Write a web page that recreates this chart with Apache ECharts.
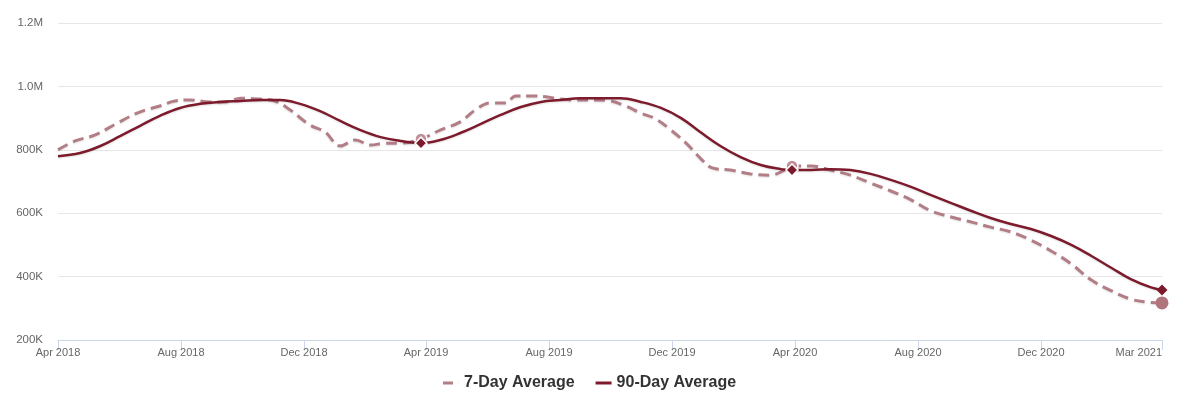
<!DOCTYPE html>
<html><head><meta charset="utf-8">
<script src="https://cdn.jsdelivr.net/npm/echarts@6/dist/echarts.min.js"></script>
<style>html,body{margin:0;padding:0;background:#fff}#c{width:1189px;height:415px}</style>
</head><body><div id="c"></div>
<script>
// values in thousands
const dates7 = ['2018-04-01','2018-04-18','2018-05-08','2018-05-28','2018-06-21','2018-07-11','2018-07-26','2018-08-10','2018-08-30','2018-09-14','2018-09-29','2018-10-17','2018-11-02','2018-11-17','2018-12-07','2018-12-22','2019-01-06','2019-01-21','2019-02-05','2019-02-20','2019-03-07','2019-03-27','2019-04-15','2019-05-05','2019-05-20','2019-06-04','2019-06-19','2019-06-29','2019-07-14','2019-07-29','2019-08-12','2019-08-27','2019-09-16','2019-10-01','2019-10-16','2019-10-31','2019-11-15','2019-11-30','2019-12-15','2019-12-29','2020-01-10','2020-01-28','2020-02-17','2020-03-08','2020-03-18','2020-03-29','2020-04-17','2020-05-06','2020-05-26','2020-06-15','2020-07-05','2020-07-25','2020-08-14','2020-09-03','2020-09-23','2020-10-12','2020-11-01','2020-11-21','2020-12-11','2020-12-31','2021-01-20','2021-02-09','2021-02-28','2021-03-15','2021-03-31'];
const values7 = [800,828,847,881,919,938,954,957,951,951,963,960,954,926,878,856,812,831,815,821,821,834,862,888,926,948,948,970,970,967,960,957,957,954,938,916,897,862,821,774,743,736,724,720,730,749,749,736,720,695,670,642,607,588,572,556,541,515,481,440,389,355,329,320,317];
const dates90 = ['2018-04-01','2018-04-23','2018-05-13','2018-06-02','2018-06-21','2018-07-11','2018-07-31','2018-08-20','2018-09-09','2018-09-29','2018-10-19','2018-11-07','2018-11-27','2018-12-17','2019-01-06','2019-01-26','2019-02-15','2019-03-07','2019-03-27','2019-04-15','2019-05-05','2019-05-25','2019-06-14','2019-07-04','2019-07-24','2019-08-12','2019-09-01','2019-09-21','2019-10-11','2019-10-31','2019-11-20','2019-12-10','2019-12-29','2020-01-18','2020-02-07','2020-02-27','2020-03-18','2020-03-29','2020-04-17','2020-05-06','2020-05-26','2020-06-15','2020-07-05','2020-07-25','2020-08-14','2020-09-03','2020-09-23','2020-10-12','2020-11-01','2020-11-21','2020-12-11','2020-12-31','2021-01-20','2021-02-09','2021-02-28','2021-03-20','2021-03-31'];
const values90 = [780,790,812,844,875,907,932,945,951,954,957,957,945,922,891,862,840,828,821,831,853,881,910,935,951,957,963,963,963,951,932,900,856,812,777,752,739,736,736,739,736,724,705,683,657,632,607,585,566,550,528,500,465,427,392,366,358];
const markerDates = ['2019-03-27','2020-03-29'];
const tickDates = ['2018-04-01','2018-08-01','2018-12-01','2019-04-01','2019-08-01','2019-12-01','2020-04-01','2020-08-01','2020-12-01','2021-03-31'];
const tickLabels = ['Apr 2018','Aug 2018','Dec 2018','Apr 2019','Aug 2019','Dec 2019','Apr 2020','Aug 2020','Dec 2020','Mar 2021'];

function ts(s){const p=s.split('-').map(Number);return Date.UTC(p[0],p[1]-1,p[2]);}
const tickTs = tickDates.map(ts);

const c7 = '#b37d86', c90 = '#7d1a2c';
function build(dates, vals, midStyle, endStyle){
  return dates.map((d,i)=>{
    const item = {value:[ts(d), vals[i]]};
    if (markerDates.indexOf(d) >= 0) Object.assign(item, midStyle);
    else if (i === dates.length-1) Object.assign(item, endStyle);
    return item;
  });
}
const data7 = build(dates7, values7,
  {symbol:'circle', symbolSize:12, itemStyle:{color:'#c0909a', borderColor:'#fff', borderWidth:1.5}},
  {symbol:'circle', symbolSize:13, itemStyle:{color:'#b0747d', borderWidth:0}});
const data90 = build(dates90, values90,
  {symbol:'diamond', symbolSize:12, itemStyle:{color:c90, borderColor:'#fff', borderWidth:1.5}},
  {symbol:'diamond', symbolSize:11, itemStyle:{color:c90, borderWidth:0}});

const chart = echarts.init(document.getElementById('c'), null, {renderer:'canvas'});
const font = "'Liberation Sans', Arial, sans-serif";
chart.setOption({
  animation:false,
  textStyle:{fontFamily:font},
  grid:{left:58, right:27, top:23, bottom:75, containLabel:false},
  legend:{
    left:443, top:375, padding:0, itemWidth:16, itemHeight:3, itemGap:21,
    textStyle:{fontSize:16, fontWeight:'bold', color:'#333', fontFamily:font},
    data:[
      {name:'7-Day Average', icon:'path://M0,0H10V3H0Z M15.9,0H16V3H15.9Z', itemStyle:{color:c7}},
      {name:'90-Day Average', icon:'rect', itemStyle:{color:c90}}
    ]
  },
  xAxis:{
    type:'value', min:tickTs[0], max:tickTs[tickTs.length-1],
    axisLine:{lineStyle:{color:'#ccd6eb', width:1}},
    axisTick:{show:true, length:10, lineStyle:{color:'#ccd6eb'}, customValues:tickTs},
    axisLabel:{customValues:tickTs, color:'#666', fontSize:11, fontFamily:font, margin:7,
      alignMaxLabel:'right', alignMinLabel:'center',
      formatter:function(v){const i=tickTs.indexOf(v);return i>=0?tickLabels[i]:'';}},
    splitLine:{show:false}
  },
  yAxis:{
    type:'value', min:200, max:1200, interval:200,
    axisLine:{show:false}, axisTick:{show:false},
    splitLine:{lineStyle:{color:'#e6e6e6'}},
    axisLabel:{color:'#666', fontSize:11.5, fontFamily:font, margin:15,
      formatter:function(v){return v>=1000?(v/1000).toFixed(1)+'M':v+'K';}}
  },
  series:[
    {name:'7-Day Average', type:'line', smooth:0.4, symbol:'none', showSymbol:true, showAllSymbol:true,
     data:data7, z:2,
     lineStyle:{color:c7, width:3, type:[11,6], shadowColor:'rgba(0,0,0,0.12)', shadowBlur:2, shadowOffsetY:1},
     itemStyle:{color:c7}},
    {name:'90-Day Average', type:'line', smooth:0.4, symbol:'none', showSymbol:true, showAllSymbol:true,
     data:data90, z:3,
     lineStyle:{color:c90, width:2.5, shadowColor:'rgba(0,0,0,0.12)', shadowBlur:2, shadowOffsetY:1},
     itemStyle:{color:c90}}
  ]
});
</script></body></html>
